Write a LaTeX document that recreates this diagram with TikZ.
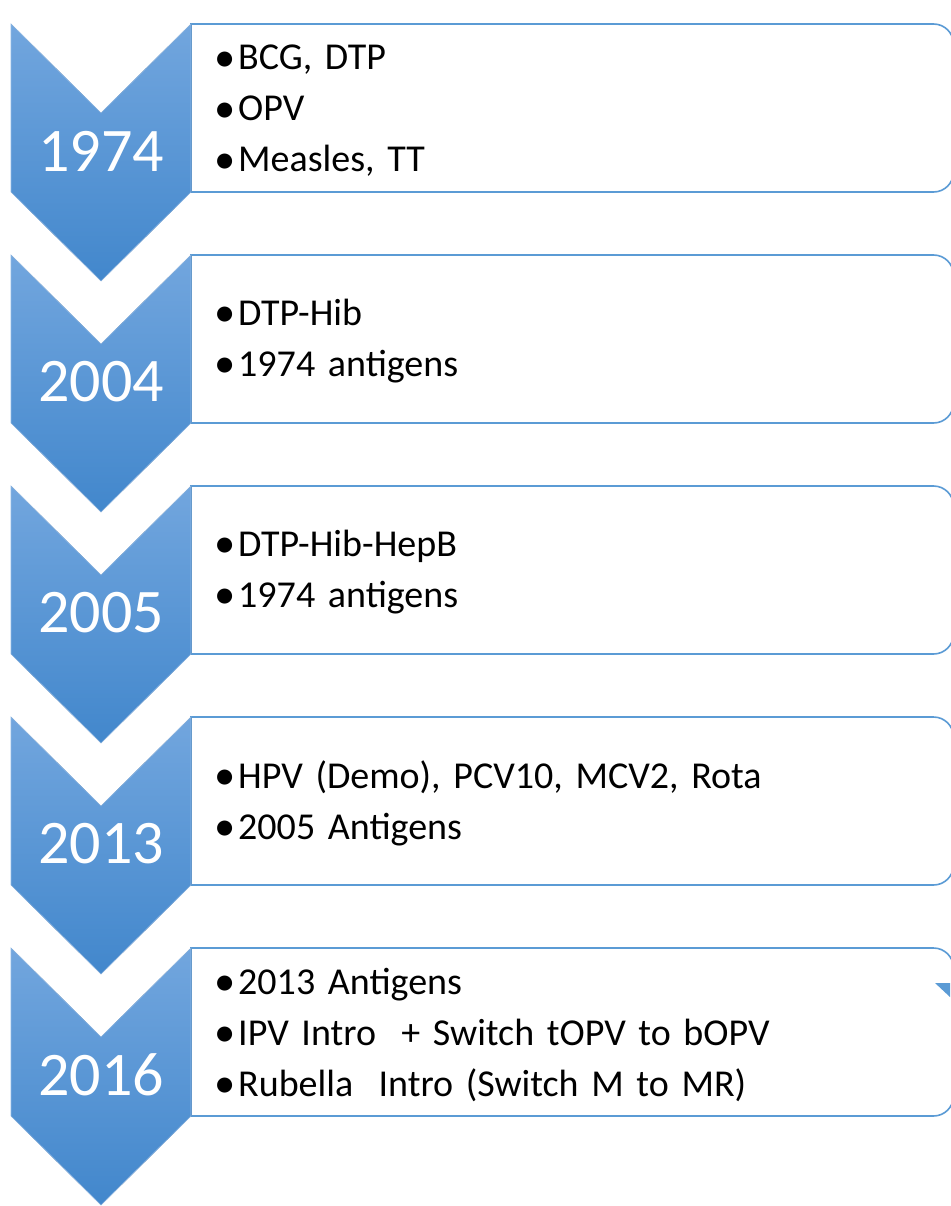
\documentclass[tikz,border=0pt]{standalone}
\usepackage{fontspec}
\setmainfont{Carlito}
\usepackage{xcolor}
\definecolor{chevtop}{RGB}{114,166,222}
\definecolor{chevbot}{RGB}{66,135,204}
\definecolor{boxline}{RGB}{91,155,213}
\newcommand{\bul}{\makebox[24pt][l]{\raisebox{-0.03em}{\scalebox{1.12}{\textbullet}}}}
\frenchspacing

\begin{document}
\begin{tikzpicture}[x=1pt,y=-1pt]
    \def\w{180}
    \def\h{168}
    \def\r{20pt}

    \tikzstyle{chev}=[top color=chevtop,bottom color=chevbot,draw=chevtop!80!white,line width=0.6pt]
    \tikzstyle{box}=[draw=boxline,fill=white,line width=1.6pt]
    \tikzstyle{year}=[text=white,font=\fontsize{62}{62}\selectfont,inner sep=0pt]
    \tikzstyle{items}=[anchor=west,text width=700pt,align=left,inner sep=0pt,
                       font=\fontsize{38}{51}\selectfont]

    \useasboundingbox (0,0) rectangle (950,1206);

    % boxes first, chevrons on top
    \foreach \y in {24,255,486,717,948}{
        \draw[box] (191,\y) -- (933.5,\y) arc[start angle=90,end angle=0,radius=\r]
            -- (953.5,\y+148) arc[start angle=0,end angle=-90,radius=\r]
            -- (191,\y+\h) -- cycle;
        \fill[chev] (11,\y) -- (101,\y+89) -- (191,\y) -- (191,\y+\h)
            -- (101,\y+257) -- (11,\y+\h) -- cycle;
    }

    \node[year] (y1974) at (101,151) {1974};
    \node[year] (y2004) at (101,382) {2004};
    \node[year] (y2005) at (101,613) {2005};
    \node[year] (y2013) at (101,844) {2013};
    \node[year] (y2016) at (101,1075) {2016};

    \node[items] (i1974) at (214,111) {\bul BCG, DTP\\ \bul OPV\\ \bul Measles, TT};
    \node[items] (i2004) at (214,341) {\bul DTP-Hib\\ \bul 1974 antigens};
    \node[items] (i2005) at (214,572) {\bul DTP-Hib-HepB\\ \bul 1974 antigens};
    \node[items] (i2013) at (214,803) {\bul HPV (Demo), PCV10, MCV2, Rota\\ \bul 2005 Antigens};
    \node[items] (i2016) at (214,1035) {\bul 2013 Antigens\\ \bul IPV Intro~ + Switch tOPV to bOPV\\ \bul Rubella~ Intro (Switch M to MR)};

    % small corner mark on the last box
    \fill[boxline] (935,983) -- (950,983) -- (950,997) -- cycle;
\end{tikzpicture}
\end{document}
